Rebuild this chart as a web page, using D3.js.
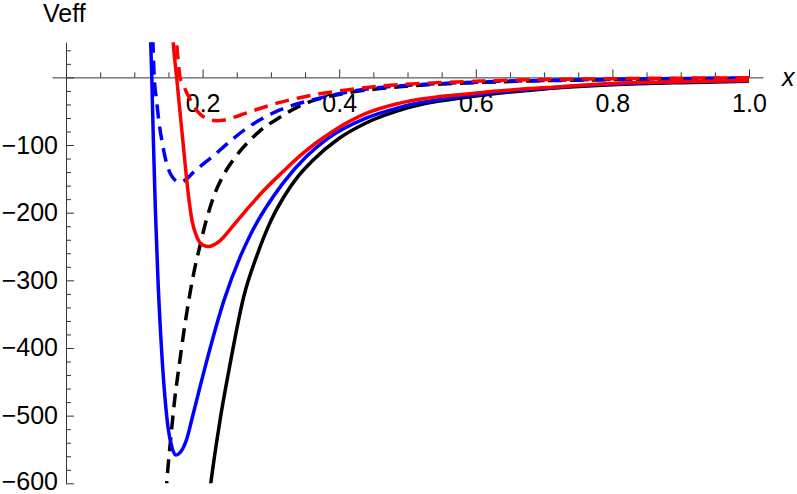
<!DOCTYPE html>
<html>
<head>
<meta charset="utf-8">
<script src="https://cdn.jsdelivr.net/npm/d3@7"></script>
<style>
  html, body { margin: 0; padding: 0; background: #fff; }
  svg { display: block; font-family: 'Liberation Sans', Arial, sans-serif; }
</style>
</head>
<body>
<svg id="chart" width="797" height="494"></svg>
<script>
// values, [x, Veff]
const blackSolid = [[0.205, -660], [0.212, -600], [0.225, -510], [0.24, -425], [0.26, -325], [0.28, -262], [0.30, -212], [0.32, -175], [0.34, -146], [0.36, -124], [0.40, -90], [0.44, -67], [0.50, -45], [0.60, -27.5], [0.70, -17], [0.80, -11], [0.90, -7.8], [1.00, -5.8]];
const blackDashed = [[0.1440, -650], [0.1474, -600], [0.1537, -530], [0.1596, -472], [0.1654, -428], [0.1727, -375], [0.1800, -328], [0.1873, -288], [0.1947, -255], [0.2049, -213], [0.2156, -178], [0.2302, -145], [0.2449, -122], [0.2547, -109], [0.2693, -93], [0.2839, -79], [0.3132, -59], [0.3469, -40], [0.3718, -31.5], [0.4113, -23], [0.4596, -16.5], [0.52, -11.5], [0.6059, -7.5], [0.80, -3.3], [1.00, -1.3]];
const blueSolid = [[0.1226, 100], [0.1240, 52], [0.1256, 0], [0.1281, -100], [0.1310, -200], [0.1347, -300], [0.1392, -390], [0.1442, -465], [0.1493, -517], [0.1552, -547], [0.1610, -558], [0.1683, -553], [0.1767, -535], [0.1844, -505], [0.1961, -458], [0.2108, -401], [0.2312, -330], [0.2547, -266], [0.2693, -234], [0.318, -156], [0.3523, -116.5], [0.3816, -91.5], [0.4401, -60], [0.4888, -44.4], [0.6059, -25], [0.723, -14.5], [0.80, -9.8], [0.90, -6.8], [1.00, -5.0]];
const blueDashed = [[0.1262, 90], [0.1273, 52], [0.1292, 0], [0.1325, -33], [0.1361, -66], [0.1398, -90], [0.1434, -110], [0.1478, -129], [0.1537, -144], [0.1610, -153], [0.1669, -155], [0.1756, -151], [0.1859, -141], [0.1961, -132], [0.2156, -116], [0.2444, -91], [0.2649, -75], [0.2810, -64.5], [0.3132, -48], [0.3619, -33], [0.4108, -22], [0.4596, -15], [0.52, -10.5], [0.6059, -6.8], [0.80, -3], [1.00, -0.9]];
const redSolid = [[0.1550, 85], [0.1570, 52], [0.1620, 0], [0.1668, -50], [0.1717, -100], [0.1756, -140], [0.1790, -172], [0.1844, -211], [0.1917, -236], [0.2005, -248], [0.2093, -250], [0.2195, -246], [0.2300, -237], [0.2400, -225], [0.2550, -207], [0.2693, -190], [0.2888, -168], [0.3180, -139], [0.3425, -116], [0.3659, -97], [0.3908, -79.5], [0.4401, -53], [0.4888, -38], [0.6059, -22.6], [0.723, -13.7], [0.80, -9], [0.90, -6.4], [1.00, -4.6]];
const redDashed = [[0.1605, 80], [0.1620, 52], [0.1645, 22], [0.1669, 0], [0.1712, -10], [0.1756, -20], [0.1815, -32], [0.1873, -43], [0.1961, -54], [0.2078, -61.5], [0.2195, -64], [0.2327, -63], [0.2547, -56], [0.2839, -46], [0.3132, -37], [0.3425, -30], [0.3615, -26], [0.4113, -18.6], [0.4596, -13], [0.52, -9], [0.6059, -5.5], [0.80, -2], [1.00, -0.7]];

const xTickLabels = [0.2, 0.4, 0.6, 0.8, 1.0];
const yTickLabels = [-600, -500, -400, -300, -200, -100];
const xMinorTicks = d3.range(1, 20).map((i) => i * 0.05).filter((v) => Math.abs(v * 5 - Math.round(v * 5)) > 1e-6);
const yMinorTicks = d3.range(-580, 41, 20).filter((v) => v % 100 !== 0);

const svg = d3.select('#chart');
const x = d3.scaleLinear().domain([-0.0205, 1.0205]).range([52, 763]);
const y = d3.scaleLinear().domain([-600, 52]).range([483.3, 42.2]);

svg.append('rect').attr('width', 797).attr('height', 494).attr('fill', '#fff');

svg.append('clipPath').attr('id', 'plotClip')
  .append('rect')
  .attr('x', x.range()[0]).attr('y', y(52))
  .attr('width', x.range()[1] - x.range()[0])
  .attr('height', y(-600) - y(52));

// axes, ticks pointing inward like Mathematica
const xAxisG = svg.append('g')
  .attr('transform', `translate(0,${y(0)})`)
  .call(d3.axisBottom(x).tickValues([0, ...xTickLabels]).tickSizeInner(-8).tickSizeOuter(0).tickPadding(17)
    .tickFormat((d) => (d === 0 ? '' : d3.format('.1f')(d))));
svg.append('g')
  .attr('transform', `translate(0,${y(0)})`)
  .call(d3.axisBottom(x).tickValues(xMinorTicks).tickSizeInner(-5).tickSizeOuter(0).tickFormat(''))
  .call((g) => g.select('.domain').remove());

const yAxisG = svg.append('g')
  .attr('transform', `translate(${x(0)},0)`)
  .call(d3.axisLeft(y).tickValues([0, ...yTickLabels]).tickSizeInner(-8).tickSizeOuter(0).tickPadding(8)
    .tickFormat((d) => (d === 0 ? '' : d3.format('d')(d))));
svg.append('g')
  .attr('transform', `translate(${x(0)},0)`)
  .call(d3.axisLeft(y).tickValues(yMinorTicks).tickSizeInner(-5).tickSizeOuter(0).tickFormat(''))
  .call((g) => g.select('.domain').remove());

svg.selectAll('.domain, .tick line').attr('stroke', '#333').attr('stroke-width', 1);
[xAxisG, yAxisG].forEach((g) => {
  g.attr('font-size', 25).attr('font-family', null);
  g.selectAll('text').attr('fill', '#000');
});
// the bottom label sits right at the edge, as in the reference; nudge it inside
yAxisG.selectAll('.tick text').filter((d) => d === -600).attr('dy', '0.26em');

svg.append('text').attr('x', 43).attr('y', 21.5).attr('font-size', 25).text('Veff');
svg.append('text').attr('x', 782).attr('y', 86).attr('font-size', 25).attr('font-style', 'italic').text('x');

const line = d3.line()
  .x((d) => x(d[0]))
  .y((d) => y(d[1]))
  .curve(d3.curveMonotoneX);

const series = [
  { data: blackSolid, color: '#000000', dash: null },
  { data: blackDashed, color: '#000000', dash: '14,8' },
  { data: blueSolid, color: '#0000ff', dash: null },
  { data: blueDashed, color: '#0000ff', dash: '14,8' },
  { data: redSolid, color: '#ff0000', dash: null },
  { data: redDashed, color: '#ff0000', dash: '14,8' },
];

const plot = svg.append('g').attr('clip-path', 'url(#plotClip)');
series.forEach((s) => {
  plot.append('path')
    .datum(s.data)
    .attr('fill', 'none')
    .attr('stroke', s.color)
    .attr('stroke-width', 3.5)
    .attr('stroke-dasharray', s.dash)
    .attr('d', line);
});
</script>
</body>
</html>
